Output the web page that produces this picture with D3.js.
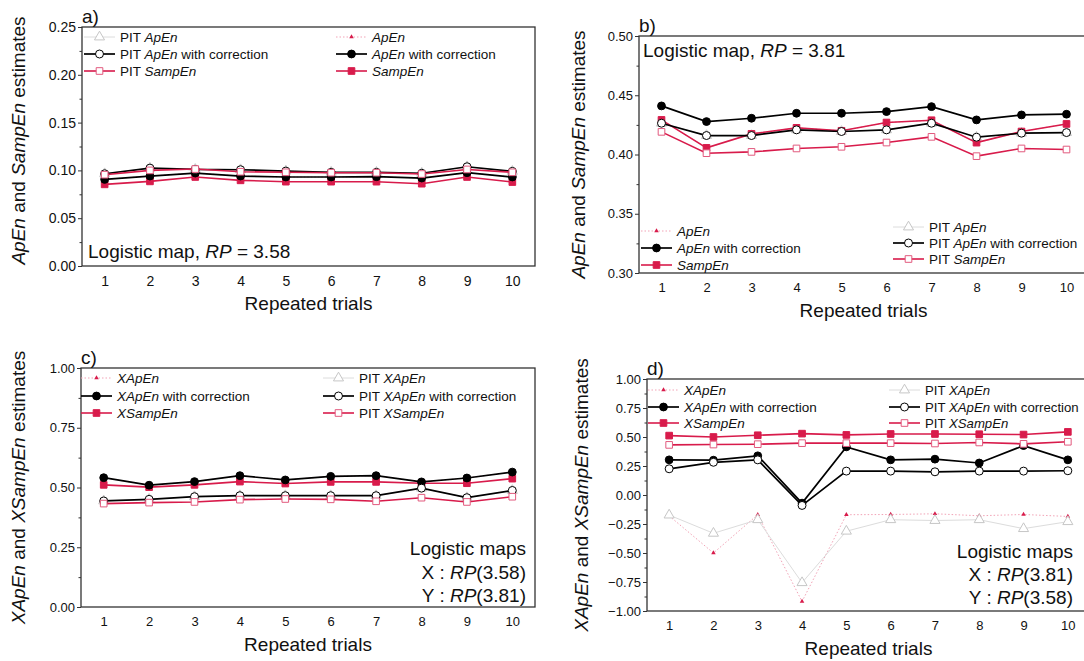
<!DOCTYPE html>
<html>
<head>
<meta charset="utf-8">
<script src="https://cdn.jsdelivr.net/npm/d3@7/dist/d3.min.js"></script>
<style>
  body { margin: 0; background: #fff; }
  svg text { font-family: "Liberation Sans", Arial, sans-serif; fill: #111; }
</style>
</head>
<body>
<svg id="fig" width="1084" height="661"></svg>
<script>
// ---- data -------------------------------------------------------------
const trials = [1, 2, 3, 4, 5, 6, 7, 8, 9, 10];

// a) logistic map, RP = 3.58
const aApEn        = [0.0906, 0.0941, 0.0972, 0.0941, 0.0931, 0.0931, 0.0934, 0.0920, 0.0976, 0.0931];
const aApEnCorr    = [0.0906, 0.0941, 0.0972, 0.0941, 0.0931, 0.0931, 0.0934, 0.0920, 0.0976, 0.0931];
const aSampEn      = [0.0854, 0.0885, 0.0931, 0.0896, 0.0882, 0.0882, 0.0882, 0.0861, 0.0931, 0.0878];
const aPitApEn     = [0.0965, 0.1024, 0.1010, 0.1007, 0.0993, 0.0980, 0.0980, 0.0970, 0.1038, 0.0990];
const aPitApEnCorr = [0.0965, 0.1024, 0.1010, 0.1007, 0.0993, 0.0980, 0.0980, 0.0970, 0.1038, 0.0990];
const aPitSampEn   = [0.0955, 0.1000, 0.1014, 0.0986, 0.0980, 0.0976, 0.0976, 0.0962, 0.1010, 0.0980];

// b) logistic map, RP = 3.81
const bApEn        = [0.4292, 0.4056, 0.4174, 0.4225, 0.4200, 0.4270, 0.4289, 0.4100, 0.4194, 0.4258];
const bApEnCorr    = [0.4410, 0.4278, 0.4306, 0.4348, 0.4348, 0.4362, 0.4404, 0.4292, 0.4334, 0.4340];
const bSampEn      = [0.4292, 0.4056, 0.4174, 0.4225, 0.4200, 0.4270, 0.4289, 0.4100, 0.4194, 0.4258];
const bPitApEn     = [0.4264, 0.4160, 0.4160, 0.4208, 0.4194, 0.4208, 0.4264, 0.4146, 0.4180, 0.4185];
const bPitApEnCorr = [0.4264, 0.4160, 0.4160, 0.4208, 0.4194, 0.4208, 0.4264, 0.4146, 0.4180, 0.4185];
const bPitSampEn   = [0.4191, 0.4011, 0.4022, 0.4051, 0.4065, 0.4101, 0.4149, 0.3986, 0.4051, 0.4042];

// c) cross entropy, X: RP 3.58, Y: RP 3.81
const cXApEn        = [0.5410, 0.5096, 0.5247, 0.5495, 0.5316, 0.5467, 0.5495, 0.5234, 0.5398, 0.5646];
const cXApEnCorr    = [0.5410, 0.5096, 0.5247, 0.5495, 0.5316, 0.5467, 0.5495, 0.5234, 0.5398, 0.5646];
const cXSampEn      = [0.5110, 0.5014, 0.5110, 0.5247, 0.5165, 0.5234, 0.5234, 0.5179, 0.5179, 0.5370];
const cPitXApEn     = [0.4437, 0.4505, 0.4615, 0.4657, 0.4657, 0.4657, 0.4657, 0.4973, 0.4574, 0.4876];
const cPitXApEnCorr = [0.4437, 0.4505, 0.4615, 0.4657, 0.4657, 0.4657, 0.4657, 0.4973, 0.4574, 0.4876];
const cPitXSampEn   = [0.4327, 0.4368, 0.4396, 0.4492, 0.4519, 0.4505, 0.4423, 0.4574, 0.4396, 0.4615];

// d) cross entropy, X: RP 3.81, Y: RP 3.58
const dXApEn        = [-0.180, -0.500, -0.170, -0.918, -0.170, -0.168, -0.162, -0.179, -0.168, -0.185];
const dXApEnCorr    = [0.303, 0.300, 0.338, -0.070, 0.415, 0.303, 0.309, 0.276, 0.426, 0.303];
const dXSampEn      = [0.512, 0.500, 0.515, 0.529, 0.518, 0.526, 0.526, 0.524, 0.521, 0.544];
const dPitXApEn     = [-0.173, -0.330, -0.213, -0.756, -0.312, -0.213, -0.220, -0.213, -0.290, -0.230];
const dPitXApEnCorr = [0.226, 0.282, 0.303, -0.090, 0.206, 0.206, 0.200, 0.206, 0.206, 0.209];
const dPitXSampEn   = [0.432, 0.435, 0.438, 0.447, 0.447, 0.447, 0.444, 0.453, 0.441, 0.459];

// tick labels
const aTicks = [0.00, 0.05, 0.10, 0.15, 0.20, 0.25];
const bTicks = [0.30, 0.35, 0.40, 0.45, 0.50];
const cTicks = [0.00, 0.25, 0.50, 0.75, 1.00];
const dTicks = [-1.00, -0.75, -0.50, -0.25, 0.00, 0.25, 0.50, 0.75, 1.00];

// ---- styles -----------------------------------------------------------
const RED = "#d81b4b";
const STY = {
  apen:     { line: "#f2a3b6", width: 1,   dash: "1.5,2", sym: d3.symbolTriangle, size: 9,  fill: RED, stroke: "none" },
  pitApen:  { line: "#dcdcdc", width: 1,   dash: null,    sym: d3.symbolTriangle, size: 44, fill: "#fff", stroke: "#c6c6c6" },
  sampen:   { line: RED,       width: 1.6, dash: null,    sym: d3.symbolSquare,   size: 44, fill: RED, stroke: RED },
  apenCorr: { line: "#000",    width: 1.7, dash: null,    sym: d3.symbolCircle,   size: 48, fill: "#000", stroke: "#000" },
  pitCorr:  { line: "#000",    width: 1.7, dash: null,    sym: d3.symbolCircle,   size: 50, fill: "#fff", stroke: "#000" },
  pitSamp:  { line: RED,       width: 1.6, dash: null,    sym: d3.symbolSquare,   size: 44, fill: "#fff", stroke: "#e25a7e" }
};

const svg = d3.select("#fig");

// text with *italic* segments
function rich(sel, str) {
  str.split("*").forEach((part, i) => {
    if (!part) return;
    const t = sel.append("tspan").text(part);
    if (i % 2 === 1) t.attr("font-style", "italic");
  });
  return sel;
}

function marker(g, key, x, y) {
  const s = STY[key];
  g.append("path")
    .attr("d", d3.symbol().type(s.sym).size(s.size)())
    .attr("transform", `translate(${x},${y})`)
    .attr("fill", s.fill)
    .attr("stroke", s.stroke)
    .attr("stroke-width", 1);
}

function drawPanel(p) {
  const g = svg.append("g");
  const x = d3.scaleLinear().domain([0.5, 10.5]).range([p.left, p.right]);
  const y = d3.scaleLinear().domain(p.yDomain).range([p.bottom, p.top]);

  // frame
  g.append("rect")
    .attr("x", p.left).attr("y", p.top)
    .attr("width", p.right - p.left).attr("height", p.bottom - p.top)
    .attr("fill", "none").attr("stroke", "#333").attr("stroke-width", 1.3);

  // y axis (major + minor)
  const yAxis = g.append("g").attr("transform", `translate(${p.left},0)`)
    .call(d3.axisLeft(y).tickValues(p.ticks).tickFormat(d3.format(".2f")).tickSize(4).tickPadding(2));
  yAxis.select(".domain").remove();
  yAxis.selectAll("text").attr("font-size", p.tickFont).attr("fill", "#111")
    .style("font-family", '"Liberation Sans", Arial, sans-serif');
  yAxis.selectAll("line").attr("stroke", "#333");
  const minor = d3.pairs(p.ticks).map(([a, b]) => (a + b) / 2);
  const yMinor = g.append("g").attr("transform", `translate(${p.left},0)`)
    .call(d3.axisLeft(y).tickValues(minor).tickFormat("").tickSize(2.5));
  yMinor.select(".domain").remove();
  yMinor.selectAll("line").attr("stroke", "#333");

  // x axis labels
  const xAxis = g.append("g").attr("transform", `translate(0,${p.bottom})`)
    .call(d3.axisBottom(x).tickValues(trials).tickFormat(d3.format("d")).tickSize(0).tickPadding(10));
  xAxis.select(".domain").remove();
  xAxis.selectAll("text").attr("font-size", p.tickFont).attr("fill", "#111")
    .style("font-family", '"Liberation Sans", Arial, sans-serif');

  // series
  const line = d3.line().x((d, i) => x(trials[i])).y(d => y(d));
  p.series.forEach(s => {
    const st = STY[s.key];
    g.append("path").datum(s.values)
      .attr("d", line).attr("fill", "none")
      .attr("stroke", st.line).attr("stroke-width", st.width)
      .attr("stroke-dasharray", st.dash);
    s.values.forEach((v, i) => marker(g, s.key, x(trials[i]), y(v)));
  });

  // legend
  p.legend.forEach(col => {
    col.items.forEach((it, j) => {
      const yy = col.y[j];
      const st = STY[it.key];
      g.append("line")
        .attr("x1", col.x).attr("x2", col.x + 31).attr("y1", yy).attr("y2", yy)
        .attr("stroke", st.line).attr("stroke-width", st.width)
        .attr("stroke-dasharray", st.dash);
      marker(g, it.key, col.x + 15.5, yy);
      rich(g.append("text").attr("x", col.x + 36).attr("y", yy + 5)
        .attr("font-size", col.font || 13.5), it.label);
    });
  });

  // panel letter
  g.append("text").attr("x", p.left).attr("y", p.top - 4)
    .attr("font-size", 19).text(p.letter);

  // axis titles
  g.append("text")
    .attr("x", (p.left + Math.min(p.right, 1084)) / 2 + p.xTitleShift)
    .attr("y", p.bottom + 44)
    .attr("text-anchor", "middle").attr("font-size", 19)
    .text("Repeated trials");
  rich(g.append("text")
    .attr("transform", `translate(${p.yTitleX},${(p.top + p.bottom) / 2 + p.yTitleShift}) rotate(-90)`)
    .attr("text-anchor", "middle").attr("font-size", 19), p.yTitle);

  // annotation
  p.notes.forEach(n => {
    rich(g.append("text").attr("x", n.x).attr("y", n.y)
      .attr("text-anchor", n.anchor).attr("font-size", 19), n.text);
  });
}

// ---- panels -----------------------------------------------------------
drawPanel({
  letter: "a)", left: 82, right: 535, top: 27, bottom: 266,
  yDomain: [0, 0.25], ticks: aTicks, tickFont: 14,
  yTitle: "*ApEn* and *SampEn* estimates", yTitleX: 25, yTitleShift: -6, xTitleShift: 0,
  series: [
    { key: "apen", values: aApEn },
    { key: "pitApen", values: aPitApEn },
    { key: "sampen", values: aSampEn },
    { key: "apenCorr", values: aApEnCorr },
    { key: "pitCorr", values: aPitApEnCorr },
    { key: "pitSamp", values: aPitSampEn }
  ],
  legend: [
    { x: 84, y: [37, 54, 71], items: [
      { key: "pitApen", label: "PIT *ApEn*" },
      { key: "pitCorr", label: "PIT *ApEn* with correction" },
      { key: "pitSamp", label: "PIT *SampEn*" } ] },
    { x: 336, y: [37, 54, 71], items: [
      { key: "apen", label: "*ApEn*" },
      { key: "apenCorr", label: "*ApEn* with correction" },
      { key: "sampen", label: "*SampEn*" } ] }
  ],
  notes: [ { x: 88, y: 258, anchor: "start", text: "Logistic map, *RP* = 3.58" } ]
});

drawPanel({
  letter: "b)", left: 639, right: 1089, top: 36, bottom: 273,
  yDomain: [0.30, 0.50], ticks: bTicks, tickFont: 13,
  yTitle: "*ApEn* and *SampEn* estimates", yTitleX: 585, yTitleShift: 0, xTitleShift: 2,
  series: [
    { key: "apen", values: bApEn },
    { key: "pitApen", values: bPitApEn },
    { key: "sampen", values: bSampEn },
    { key: "apenCorr", values: bApEnCorr },
    { key: "pitCorr", values: bPitApEnCorr },
    { key: "pitSamp", values: bPitSampEn }
  ],
  legend: [
    { x: 641, y: [231, 248, 265], items: [
      { key: "apen", label: "*ApEn*" },
      { key: "apenCorr", label: "*ApEn* with correction" },
      { key: "sampen", label: "*SampEn*" } ] },
    { x: 893, y: [227, 243, 259], items: [
      { key: "pitApen", label: "PIT *ApEn*" },
      { key: "pitCorr", label: "PIT *ApEn* with correction" },
      { key: "pitSamp", label: "PIT *SampEn*" } ] }
  ],
  notes: [ { x: 643, y: 57, anchor: "start", text: "Logistic map, *RP* = 3.81" } ]
});

drawPanel({
  letter: "c)", left: 81, right: 535, top: 368, bottom: 607,
  yDomain: [0, 1], ticks: cTicks, tickFont: 13,
  yTitle: "*XApEn* and *XSampEn* estimates", yTitleX: 25, yTitleShift: 0, xTitleShift: 0,
  series: [
    { key: "apen", values: cXApEn },
    { key: "pitApen", values: cPitXApEn },
    { key: "sampen", values: cXSampEn },
    { key: "apenCorr", values: cXApEnCorr },
    { key: "pitCorr", values: cPitXApEnCorr },
    { key: "pitSamp", values: cPitXSampEn }
  ],
  legend: [
    { x: 81, y: [378, 396, 413], items: [
      { key: "apen", label: "*XApEn*" },
      { key: "apenCorr", label: "*XApEn* with correction" },
      { key: "sampen", label: "*XSampEn*" } ] },
    { x: 323, y: [378, 396, 413], items: [
      { key: "pitApen", label: "PIT *XApEn*" },
      { key: "pitCorr", label: "PIT *XApEn* with correction" },
      { key: "pitSamp", label: "PIT *XSampEn*" } ] }
  ],
  notes: [
    { x: 526, y: 555, anchor: "end", text: "Logistic maps" },
    { x: 526, y: 579, anchor: "end", text: "X : *RP*(3.58)" },
    { x: 526, y: 602, anchor: "end", text: "Y : *RP*(3.81)" }
  ]
});

drawPanel({
  letter: "d)", left: 647, right: 1090, top: 379, bottom: 611,
  yDomain: [-1, 1], ticks: dTicks, tickFont: 13,
  yTitle: "*XApEn* and *XSampEn* estimates", yTitleX: 588, yTitleShift: 0, xTitleShift: 3,
  series: [
    { key: "apen", values: dXApEn },
    { key: "pitApen", values: dPitXApEn },
    { key: "sampen", values: dXSampEn },
    { key: "apenCorr", values: dXApEnCorr },
    { key: "pitCorr", values: dPitXApEnCorr },
    { key: "pitSamp", values: dPitXSampEn }
  ],
  legend: [
    { x: 648, y: [390, 407, 423], items: [
      { key: "apen", label: "*XApEn*" },
      { key: "apenCorr", label: "*XApEn* with correction" },
      { key: "sampen", label: "*XSampEn*" } ] },
    { x: 889, y: [390, 407, 423], font: 13.2, items: [
      { key: "pitApen", label: "PIT *XApEn*" },
      { key: "pitCorr", label: "PIT *XApEn* with correction" },
      { key: "pitSamp", label: "PIT *XSampEn*" } ] }
  ],
  notes: [
    { x: 1073, y: 558, anchor: "end", text: "Logistic maps" },
    { x: 1073, y: 581, anchor: "end", text: "X : *RP*(3.81)" },
    { x: 1073, y: 604, anchor: "end", text: "Y : *RP*(3.58)" }
  ]
});
</script>
</body>
</html>
